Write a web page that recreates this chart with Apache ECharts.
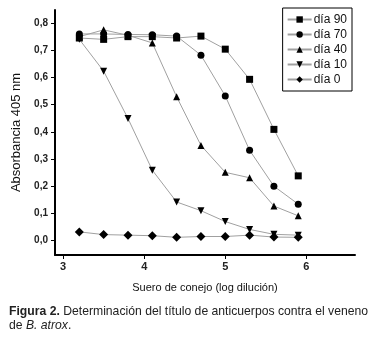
<!DOCTYPE html>
<html>
<head>
<meta charset="utf-8">
<script src="https://cdn.jsdelivr.net/npm/echarts@6/dist/echarts.min.js"></script>
<style>
  html, body { margin: 0; padding: 0; background: #fff; }
  #main { width: 375px; height: 343px; }
</style>
</head>
<body>
<div id="main"></div>
<script>
const dilution = [3.2, 3.5, 3.8, 4.1, 4.4, 4.7, 5.0, 5.3, 5.6, 5.9];
const dia90 = [0.745, 0.74, 0.75, 0.75, 0.745, 0.752, 0.704, 0.593, 0.409, 0.238];
const dia70 = [0.76, 0.76, 0.758, 0.757, 0.752, 0.682, 0.532, 0.332, 0.2, 0.134];
const dia40 = [0.75, 0.775, 0.755, 0.727, 0.529, 0.35, 0.251, 0.231, 0.127, 0.091];
const dia10 = [0.74, 0.623, 0.449, 0.259, 0.142, 0.11, 0.07, 0.041, 0.023, 0.02];
const dia0 = [0.032, 0.022, 0.02, 0.018, 0.012, 0.015, 0.015, 0.02, 0.013, 0.012];
const xTicks = [3, 4, 5, 6];
const yTicks = [0, 0.1, 0.2, 0.3, 0.4, 0.5, 0.6, 0.7, 0.8];

const font = 'Liberation Sans, Arial, sans-serif';
const pair = arr => dilution.map((x, i) => [x, arr[i]]);
const mk = (name, arr, symbol, rotate) => ({
    name: name,
    type: 'line',
    data: pair(arr),
    symbol: symbol,
    symbolRotate: rotate || 0,
    symbolSize: symbol === 'diamond' ? 9 : 7,
    lineStyle: { color: '#a0a0a0', width: 1 },
    itemStyle: { color: '#000' },
    emphasis: { disabled: true }
});

const myChart = echarts.init(document.getElementById('main'));
myChart.setOption({
    animation: false,
    grid: { left: 55, right: 20, top: 10, bottom: 88 },
    title: {
        left: 4,
        top: 300,
        text: '{b|Figura 2.} Determinación del título de anticuerpos contra el veneno\nde {i|B. atrox}.',
        textStyle: {
            fontFamily: font, fontSize: 12.2, fontWeight: 'normal', color: '#222', lineHeight: 14,
            rich: {
                b: { fontFamily: font, fontSize: 12.2, fontWeight: 'bold', color: '#222' },
                i: { fontFamily: font, fontSize: 12.2, fontStyle: 'italic', color: '#222' }
            }
        }
    },
    legend: {
        right: 23, top: 8,
        orient: 'vertical',
        backgroundColor: '#fff',
        borderColor: '#000', borderWidth: 1,
        padding: [5, 5, 5, 4],
        itemGap: 2,
        itemWidth: 24, itemHeight: 8,
        textStyle: { fontFamily: font, fontSize: 12, color: '#111', padding: [0, 0, 0, -3], lineHeight: 13 },
        data: ['día 90', 'día 70', 'día 40', 'día 10', 'día 0']
    },
    xAxis: {
        type: 'value',
        min: 2.9, max: 6.6,
        name: 'Suero de conejo (log dilución)',
        nameLocation: 'middle',
        nameGap: 27,
        nameTextStyle: { fontFamily: font, fontSize: 11, color: '#111' },
        axisLine: { onZero: false, lineStyle: { color: '#000', width: 2 } },
        axisTick: { customValues: xTicks, length: 4, lineStyle: { color: '#000', width: 1 } },
        axisLabel: { customValues: xTicks, fontFamily: font, fontSize: 11, fontWeight: 'bold', color: '#222', margin: 6 },
        splitLine: { show: false }
    },
    yAxis: {
        type: 'value',
        min: -0.053, max: 0.848,
        name: 'Absorbancia 405 nm',
        nameLocation: 'middle',
        nameGap: 27,
        nameTextStyle: { fontFamily: font, fontSize: 13, color: '#111' },
        axisLine: { show: true, onZero: false, lineStyle: { color: '#000', width: 2 } },
        axisTick: { show: true, customValues: yTicks, length: 4, lineStyle: { color: '#000', width: 1 } },
        axisLabel: {
            customValues: yTicks, fontFamily: font, fontSize: 10, fontWeight: 'bold', color: '#222', margin: 7,
            formatter: v => v.toFixed(1).replace('.', ',')
        },
        splitLine: { show: false }
    },
    series: [
        mk('día 90', dia90, 'rect'),
        mk('día 70', dia70, 'circle'),
        mk('día 40', dia40, 'triangle'),
        mk('día 10', dia10, 'triangle', 180),
        mk('día 0', dia0, 'diamond')
    ]
});
</script>
</body>
</html>
